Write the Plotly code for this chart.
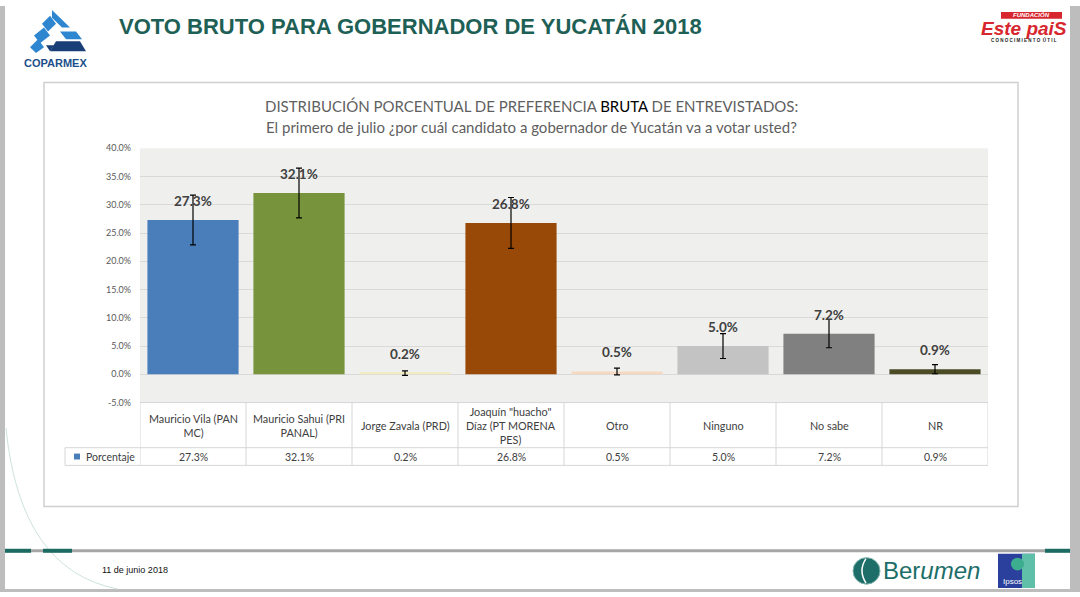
import plotly.graph_objects as go

W, H = 1080, 597

categories = ["Mauricio Vila (PAN<br>MC)", "Mauricio Sahui (PRI<br>PANAL)", "Jorge Zavala (PRD)",
              "Joaquín \"huacho\"<br>Díaz (PT MORENA<br>PES)", "Otro", "Ninguno", "No sabe", "NR"]
values = [27.3, 32.1, 0.2, 26.8, 0.5, 5.0, 7.2, 0.9]
errors = [4.4, 4.4, 0.4, 4.5, 0.6, 2.2, 2.5, 0.8]
colors = ["#4a7ebb", "#77933c", "#f3ecbc", "#984807", "#f7d9c2", "#c3c3c3", "#808080", "#4b4b26"]
series_name = "Porcentaje"
y_ticks = [-5, 0, 5, 10, 15, 20, 25, 30, 35, 40]
y_tick_labels = [f"{v:.1f}%" for v in y_ticks]


def px(x):
    return x / W


def py(y):
    return 1 - y / H


X0, X1 = 140, 988
Y_TOP, Y_BOT = 145, 404
n = len(categories)
xs = list(range(n))

fig = go.Figure()
fig.add_trace(go.Bar(
    x=xs, y=values, marker=dict(color=colors, line=dict(width=0)),
    error_y=dict(type="data", array=errors, visible=True, color="#000000", thickness=1.2, width=3),
    width=0.86, hoverinfo="skip", showlegend=False,
))

fig.update_layout(
    width=W, height=H, margin=dict(l=0, r=0, t=0, b=0),
    paper_bgcolor="#ffffff", plot_bgcolor="#efefed",
    font=dict(family="Lato, Open Sans, sans-serif", color="#595959"),
    xaxis=dict(domain=[px(X0), px(X1)], range=[-0.5, n - 0.5], showticklabels=False,
               showgrid=False, zeroline=False, fixedrange=True),
    yaxis=dict(domain=[py(Y_BOT), py(Y_TOP)], range=[-5, 40], tickmode="array", tickvals=y_ticks,
               ticktext=y_tick_labels, showgrid=True, gridcolor="#d9d9d9", gridwidth=1,
               zeroline=True, zerolinecolor="#d9d9d9", zerolinewidth=1,
               tickfont=dict(size=9, color="#595959", family="Lato, sans-serif"), ticks="",
               ticklabelstandoff=8, fixedrange=True),
)

shapes = []
ann = []
LINE = "#d6d6d6"

# outer slide frame (grey strips)
shapes.append(dict(type="rect", xref="paper", yref="paper", x0=px(0), x1=px(5), y0=0, y1=1,
                   fillcolor="#bdbdbd", line=dict(width=0), layer="below"))
shapes.append(dict(type="rect", xref="paper", yref="paper", x0=px(1070), x1=1, y0=0, y1=1,
                   fillcolor="#bdbdbd", line=dict(width=0), layer="below"))
shapes.append(dict(type="rect", xref="paper", yref="paper", x0=0, x1=1, y0=0, y1=py(594),
                   fillcolor="#bdbdbd", line=dict(width=0), layer="below"))

# chart box
shapes.append(dict(type="rect", xref="paper", yref="paper", x0=px(44), x1=px(1018), y0=py(510), y1=py(78),
                   fillcolor="rgba(0,0,0,0)", line=dict(color="#d0d0d0", width=1.5), layer="below"))

# decorative arc
shapes.append(dict(type="path", xref="paper", yref="paper",
                   path=f"M {px(6)},{py(430)} Q {px(20)},{py(575)} {px(118)},{py(594)}",
                   line=dict(color="#cfe2df", width=1)))

# footer line
shapes.append(dict(type="line", xref="paper", yref="paper", x0=px(5), x1=px(1070), y0=py(555), y1=py(555),
                   line=dict(color="#a6a6a6", width=3)))
for a, b in [(5, 31), (43, 72), (1045, 1070)]:
    shapes.append(dict(type="line", xref="paper", yref="paper", x0=px(a), x1=px(b), y0=py(555), y1=py(555),
                       line=dict(color="#1c6b62", width=4)))

# data table
shapes.append(dict(type="line", xref="paper", yref="paper", x0=px(X0), x1=px(X1), y0=py(Y_BOT), y1=py(Y_BOT),
                   line=dict(color=LINE, width=1)))
for yy in (450, 468):
    shapes.append(dict(type="line", xref="paper", yref="paper", x0=px(65), x1=px(X1), y0=py(yy), y1=py(yy),
                       line=dict(color=LINE, width=1)))
shapes.append(dict(type="line", xref="paper", yref="paper", x0=px(65), x1=px(65), y0=py(450), y1=py(468),
                   line=dict(color=LINE, width=1)))
for i in range(n + 1):
    shapes.append(dict(type="line", xref="x", yref="paper", x0=i - 0.5, x1=i - 0.5, y0=py(404), y1=py(468),
                       line=dict(color=LINE, width=1)))
shapes.append(dict(type="rect", xref="paper", yref="paper", x0=px(74), x1=px(80), y0=py(462), y1=py(456),
                   fillcolor=colors[0], line=dict(width=0)))
ann.append(dict(xref="paper", yref="paper", x=px(84), y=py(459.5), text=series_name, showarrow=False,
                xanchor="left", yanchor="middle", font=dict(size=10.5, color="#404040")))

for i, (c, v) in enumerate(zip(categories, values)):
    ann.append(dict(xref="x", yref="paper", x=i, y=py(427), text=c, showarrow=False,
                    xanchor="center", yanchor="middle", font=dict(size=10.8, color="#404040")))
    ann.append(dict(xref="x", yref="paper", x=i, y=py(459.5), text=f"{v:.1f}%", showarrow=False,
                    xanchor="center", yanchor="middle", font=dict(size=10.5, color="#404040")))
    ann.append(dict(xref="x", yref="y", x=i, y=v, yshift=19, text=f"<b>{v:.1f}%</b>", showarrow=False,
                    xanchor="center", yanchor="middle", font=dict(size=13.5, color="#404040")))

# chart title
ann.append(dict(xref="paper", yref="paper", x=px(531), y=py(102),
                text="DISTRIBUCIÓN PORCENTUAL DE PREFERENCIA <span style='color:#000000'>BRUTA</span> DE ENTREVISTADOS:",
                showarrow=False, xanchor="center", yanchor="middle", font=dict(size=15, color="#5f5f5f")))
ann.append(dict(xref="paper", yref="paper", x=px(531), y=py(123),
                text="El primero de julio ¿por cuál candidato a gobernador de Yucatán va a votar usted?",
                showarrow=False, xanchor="center", yanchor="middle", font=dict(size=15, color="#5f5f5f")))

# slide title
ann.append(dict(xref="paper", yref="paper", x=px(117), y=py(21), text="<b>VOTO BRUTO PARA GOBERNADOR DE YUCATÁN 2018</b>",
                showarrow=False, xanchor="left", yanchor="middle",
                font=dict(size=22, color="#1e5f56", family="Liberation Sans, Arial, sans-serif")))

# COPARMEX logo
def poly(pts, color):
    d = "M " + " L ".join(f"{px(a)},{py(b)}" for a, b in pts) + " Z"
    shapes.append(dict(type="path", xref="paper", yref="paper", path=d, fillcolor=color, line=dict(width=0)))

poly([(52, 4), (70, 22), (62, 22), (52, 12)], "#2f86d0")
poly([(42, 18), (50, 10), (56, 18), (48, 26)], "#2f86d0")
poly([(34, 30), (44, 22), (50, 30), (40, 38)], "#2f86d0")
poly([(30, 42), (38, 34), (44, 42), (36, 48)], "#2f86d0")
poly([(60, 26), (76, 26), (82, 34), (66, 34)], "#2f86d0")
poly([(56, 36), (80, 36), (86, 46), (50, 46)], "#1a3f78")
poly([(46, 40), (54, 40), (50, 46)], "#1a3f78")
ann.append(dict(xref="paper", yref="paper", x=px(55), y=py(58), text="<b>COPARMEX</b>", showarrow=False,
                xanchor="center", yanchor="middle",
                font=dict(size=11, color="#1b4f8a", family="Liberation Sans Narrow, Liberation Sans, sans-serif")))

# Este País logo
shapes.append(dict(type="rect", xref="paper", yref="paper", x0=px(1001), x1=px(1062), y0=py(13), y1=py(6),
                   fillcolor="#d7262e", line=dict(width=0)))
ann.append(dict(xref="paper", yref="paper", x=px(1031), y=py(9.5), text="<b><i>FUNDACIÓN</i></b>", showarrow=False,
                xanchor="center", yanchor="middle", font=dict(size=6, color="#ffffff", family="Liberation Sans, sans-serif")))
ann.append(dict(xref="paper", yref="paper", x=px(1024), y=py(23), text="<b><i>Este paiS</i></b>", showarrow=False,
                xanchor="center", yanchor="middle",
                font=dict(size=19, color="#d7262e", family="Liberation Sans Narrow, Liberation Sans, sans-serif")))
ann.append(dict(xref="paper", yref="paper", x=px(1024), y=py(35), text="<b>C O N O C I M I E N T O  Ú T I L</b>",
                showarrow=False, xanchor="center", yanchor="middle",
                font=dict(size=4.5, color="#222222", family="Liberation Sans, sans-serif")))

# footer
ann.append(dict(xref="paper", yref="paper", x=px(100), y=py(575), text="11 de junio 2018", showarrow=False,
                xanchor="left", yanchor="middle",
                font=dict(size=9, color="#111111", family="Liberation Sans Narrow, Liberation Sans, sans-serif")))
shapes.append(dict(type="circle", xref="paper", yref="paper", x0=px(853), x1=px(880), y0=py(589), y1=py(562),
                   fillcolor="#1d6e69", line=dict(color="#7fb3ad", width=1)))
shapes.append(dict(type="path", xref="paper", yref="paper",
                   path=f"M {px(866)},{py(563)} Q {px(858)},{py(575)} {px(866)},{py(588)}",
                   line=dict(color="#ffffff", width=1.5)))
ann.append(dict(xref="paper", yref="paper", x=px(881), y=py(575), text="Ber<i>umen</i>", showarrow=False,
                xanchor="left", yanchor="middle", font=dict(size=24, color="#1d6e69", family="Liberation Sans, sans-serif")))
shapes.append(dict(type="rect", xref="paper", yref="paper", x0=px(998), x1=px(1035), y0=py(593), y1=py(558),
                   fillcolor="#2b3f9c", line=dict(width=0)))
shapes.append(dict(type="rect", xref="paper", yref="paper", x0=px(1022), x1=px(1035), y0=py(593), y1=py(558),
                   fillcolor="#5fbfa8", line=dict(width=0)))
shapes.append(dict(type="circle", xref="paper", yref="paper", x0=px(1011), x1=px(1024), y0=py(575), y1=py(562),
                   fillcolor="#3cae8f", line=dict(width=0)))
ann.append(dict(xref="paper", yref="paper", x=px(1012), y=py(586), text="Ipsos", showarrow=False,
                xanchor="center", yanchor="middle", font=dict(size=8, color="#ffffff", family="Liberation Sans, sans-serif")))

fig.update_layout(shapes=shapes, annotations=ann)
fig.write_html("out.html", config={"displayModeBar": False},
               post_script="document.body.style.margin='0';document.body.style.overflow='hidden';")
